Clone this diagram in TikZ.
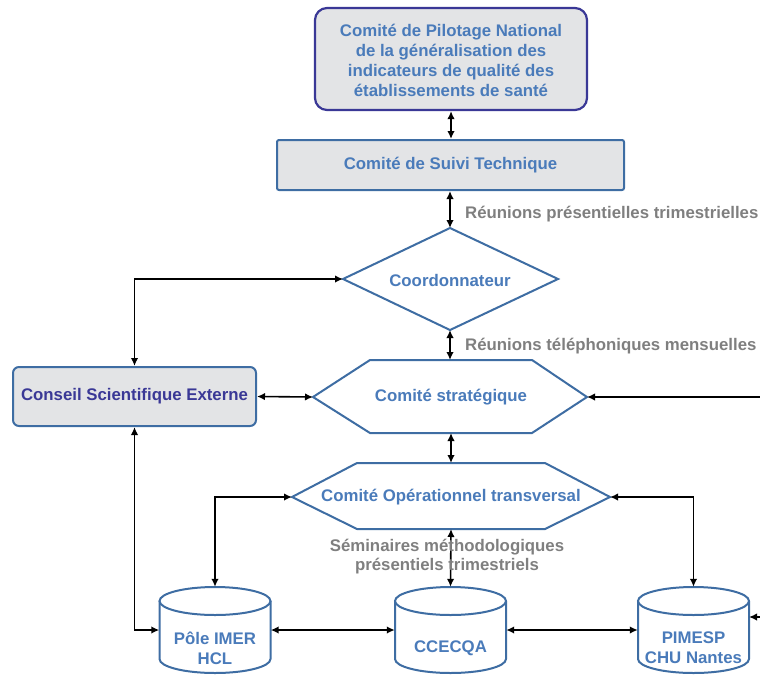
\documentclass[tikz,border=0pt]{standalone}
\usepackage{fontspec}
\setmainfont{Liberation Sans}
\usetikzlibrary{arrows.meta}
\definecolor{sb}{HTML}{3E6DA3}
\definecolor{tb}{HTML}{4A7BBA}
\definecolor{pb}{HTML}{3A3896}
\definecolor{gf}{HTML}{E3E4E6}
\definecolor{gt}{HTML}{7F7F7F}
\begin{document}
\begin{tikzpicture}[x=1pt,y=1pt,
  txt/.style={font=\bfseries\fontsize{16.8}{20}\selectfont, text=tb, align=center, inner sep=0pt},
  lbl/.style={font=\bfseries\fontsize{16.8}{19}\selectfont, text=gt, align=center, inner sep=0pt},
  gbox/.style={draw=sb, line width=2pt, fill=gf, inner sep=0pt},
  shp/.style={draw=sb, line width=2pt, fill=white},
  arr/.style={{Latex[length=8pt,width=7.5pt]}-{Latex[length=8pt,width=7.5pt]}, line width=1.6pt, black},
  arr1/.style={-{Latex[length=8pt,width=7.5pt]}, line width=1.6pt, black},
  cylbody/.style={inner sep=0pt, minimum width=111pt, minimum height=86pt}]
\useasboundingbox (0,0) rectangle (760,-675);
% top box
\node[gbox, draw=pb, line width=2.2pt, rounded corners=12pt, minimum width=272pt, minimum height=102pt] (cpn) at (451,-59) {};
\node[txt] at (451,-60) {Comité de Pilotage National\\de la généralisation des\\indicateurs de qualité des\\établissements de santé};
% suivi
\node[gbox, rounded corners=2pt, minimum width=347pt, minimum height=50pt, txt] (cst) at (450.5,-165) {Comité de Suivi Technique};
% conseil
\node[gbox, rounded corners=6pt, minimum width=243pt, minimum height=59pt, txt, text=pb] (cse) at (134.5,-396.5) {Conseil Scientifique Externe};
% coordonnateur diamond
\coordinate (cT) at (450,-228);
\coordinate (cR) at (558,-279);
\coordinate (cB) at (450,-330);
\coordinate (cL) at (343,-279);
\draw[shp] (cT) -- (cR) -- (cB) -- (cL) -- cycle;
\node[txt] (coord) at (450,-280) {Coordonnateur};
% strategique hexagon
\coordinate (sL) at (313,-397);
\coordinate (sR) at (587,-397);
\coordinate (sT) at (451,-360);
\coordinate (sB) at (451,-433);
\draw[shp] (sL) -- (370,-360) -- (532,-360) -- (sR) -- (532,-433) -- (370,-433) -- cycle;
\node[txt] (strat) at (451,-397) {Comité stratégique};
% operationnel hexagon
\coordinate (oL) at (292,-497);
\coordinate (oR) at (610,-497);
\coordinate (oT) at (451,-463);
\coordinate (oB) at (451,-529);
\draw[shp] (oL) -- (357,-463) -- (545,-463) -- (oR) -- (545,-529) -- (357,-529) -- cycle;
\node[txt] (oper) at (451,-497) {Comité Opérationnel transversal};
% cylinders
\foreach \n/\cx in {pole/215, cce/450.5, pim/693.5}{
  \node[cylbody] (\n) at (\cx,-630) {};
  \draw[shp] (\cx-55.5,-601) -- (\cx-55.5,-659) arc[start angle=180,end angle=360,x radius=55.5,y radius=14] -- (\cx+55.5,-601);
  \draw[shp] (\cx,-601) ellipse[x radius=55.5, y radius=14];
}
\node[txt] at (215,-648) {Pôle IMER\\HCL};
\node[txt] at (450.5,-648) {CCECQA};
\node[txt] at (693.5,-648) {PIMESP\\CHU Nantes};
% labels
\node[lbl, anchor=west] (l1) at (465,-214) {Réunions présentielles trimestrielles};
\node[lbl, anchor=west] (l2) at (465,-346) {Réunions téléphoniques mensuelles};
% connectors
\draw[arr] (cpn.south) -- (cst.north -| cpn.south);
\draw[arr] (cst.south -| cT) -- (cT);
\draw[arr] (cB) -- (cB |- sT);
\draw[arr] (sB) -- (oT);
\draw[arr] (cse.north) |- (cL);
\draw[arr] (cse.east) -- (sL);
\draw[arr] (cse.south) |- (pole.west);
\draw[arr] (oL) -| (pole.north);
\draw[arr] (oR) -| (pim.north);
\draw[arr] (oB) -- (cce.north);
\draw[arr] (pole.east) -- (cce.west);
\draw[arr] (cce.east) -- (pim.east -| pim.west);
\coordinate (rin) at (762,-397);
\draw[arr1] (rin) -- (sR);
\coordinate (rin2) at (762,-617);
\coordinate (pimR) at (749,-617);
\draw[arr1] (rin2) -- (pimR);
\node[lbl] (l3) at (447,-557) {Séminaires méthodologiques\\présentiels trimestriels};
\end{tikzpicture}
\end{document}
